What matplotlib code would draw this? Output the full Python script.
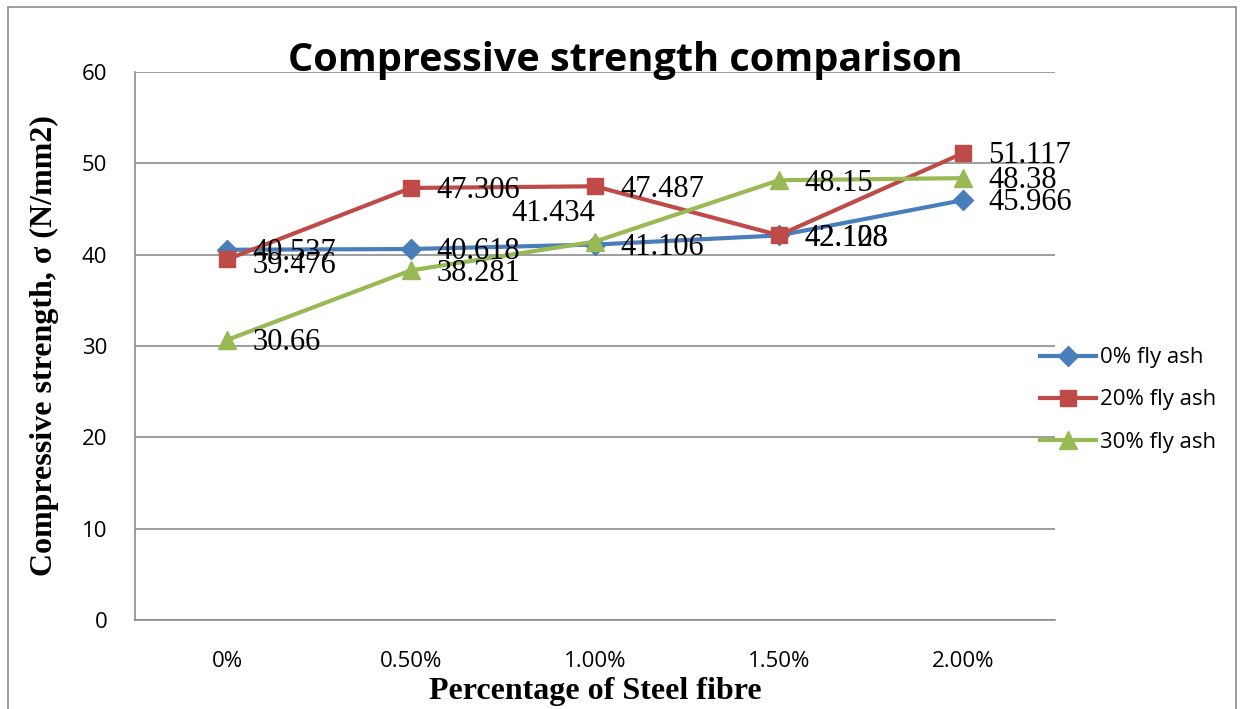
import matplotlib.pyplot as plt
from matplotlib.patches import Rectangle

categories = ["0%", "0.50%", "1.00%", "1.50%", "2.00%"]
fly0 = [40.537, 40.618, 41.106, 42.108, 45.966]
fly20 = [39.476, 47.306, 47.487, 42.128, 51.117]
fly30 = [30.66, 38.281, 41.434, 48.15, 48.38]

W, H = 1243, 709
fig = plt.figure(figsize=(W / 100, H / 100), dpi=100)
ax = fig.add_axes([135 / W, 1 - 620 / H, (1055 - 135) / W, (620 - 72) / H])

x = [i + 0.5 for i in range(len(categories))]
l0, = ax.plot(x, fly0, color="#4A7EBB", lw=3, marker="D", ms=10, label="0% fly ash")
l20, = ax.plot(x, fly20, color="#BE4B48", lw=3, marker="s", ms=12, label="20% fly ash")
l30, = ax.plot(x, fly30, color="#98B954", lw=3, marker="^", ms=13, label="30% fly ash")

lab = dict(family="Liberation Serif", fontsize=22, va="center", ha="left")
off = (18, -2)
for xi, v in zip(x, fly0):
    ax.annotate(f"{v:g}", (xi, v), xytext=off, textcoords="offset points", **lab)
for xi, v in zip(x, fly20):
    ax.annotate(f"{v:g}", (xi, v), xytext=(18, -4) if v < 40 else off, textcoords="offset points", **lab)
for i, (xi, v) in enumerate(zip(x, fly30)):
    o = (-60, 20) if i == 2 else off
    ax.annotate(f"{v:g}", (xi, v), xytext=o, textcoords="offset points", **lab)

ax.set_xlim(0, 5)
ax.set_ylim(0, 60)
ax.set_yticks(range(0, 61, 10))
ax.set_xticks(x)
ax.set_xticklabels(categories)
ax.tick_params(length=0, labelsize=16, pad=20)
ax.tick_params(axis="x", pad=22)
for t in ax.get_xticklabels() + ax.get_yticklabels():
    t.set_family("Open Sans")
ax.grid(axis="y", color="#8C8C8C", lw=1.2)
ax.set_axisbelow(True)
for s in ["top", "right"]:
    ax.spines[s].set_visible(False)
for s in ["left", "bottom"]:
    ax.spines[s].set_color("#8C8C8C")
    ax.spines[s].set_linewidth(1.2)

ax.set_xlabel("Percentage of Steel fibre", family="Liberation Serif", fontweight="bold", fontsize=23, labelpad=4)
ax.set_ylabel("Compressive strength, σ (N/mm2)", family="Liberation Serif", fontweight="bold", fontsize=23, labelpad=16)
fig.text(625 / W, 1 - 60 / H, "Compressive strength comparison", ha="center", va="center",
         family="Open Sans", fontweight="bold", fontsize=28.5)

leg = fig.legend(handles=[l0, l20, l30], loc="center left", bbox_to_anchor=(1020 / W, 1 - 400 / H),
                 frameon=False, prop={"family": "Open Sans", "size": 16}, handlelength=2.5,
                 labelspacing=0.95, handletextpad=0.2)

fig.patches.append(Rectangle((8 / W, -0.01), (1236 - 8) / W, 1 - 7 / H + 0.01, transform=fig.transFigure,
                             fill=False, edgecolor="#8C8C8C", lw=1.2))

fig.savefig("out.png", dpi=100)
